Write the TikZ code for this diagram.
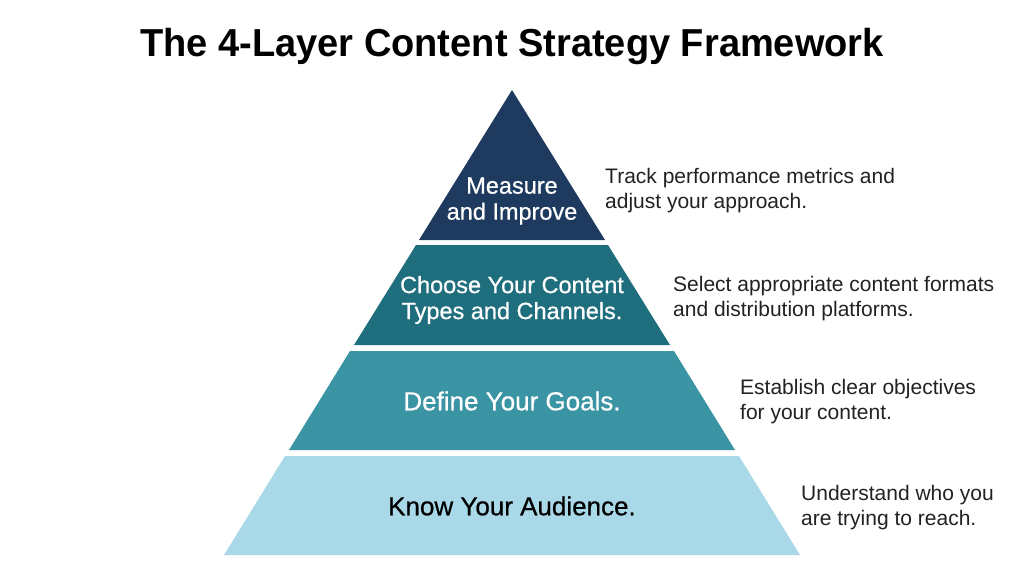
\documentclass[tikz,border=0pt]{standalone}
\usepackage{fontspec}
\setmainfont{Liberation Sans}
\newfontfamily\titlefont[FakeStretch=0.975]{Liberation Sans}
\newfontfamily\labelfont[FakeBold=0.6]{Liberation Sans}
\usepackage{tikz}

\definecolor{layerone}{HTML}{1E3A5F}
\definecolor{layertwo}{HTML}{1F6E7E}
\definecolor{layerthree}{HTML}{3B94A3}
\definecolor{layerfour}{HTML}{A9D9E8}
\definecolor{desccol}{HTML}{222222}

\begin{document}
\begin{tikzpicture}[x=1pt, y=-1pt,
    layertext/.style = {text=white, align=center, inner sep=0pt, font=\labelfont\fontsize{23.5}{26}\selectfont},
    biglayertext/.style = {layertext, font=\labelfont\fontsize{26}{28}\selectfont},
    desctext/.style = {anchor=west, align=left, inner sep=0pt, text=desccol, font=\fontsize{21}{25}\selectfont}]
    \useasboundingbox[fill=white] (0,0) rectangle (1024,576);
    % title
    \node[font=\titlefont\bfseries\fontsize{39}{44}\selectfont] (title) at (512,46) {The 4-Layer Content Strategy Framework};
    % pyramid layers
    \fill[layerone] (512,90) -- (605,240) -- (419,240) -- cycle;
    \fill[layertwo] (416,245) -- (608,245) -- (670,345) -- (354,345) -- cycle;
    \fill[layerthree] (350,351) -- (674,351) -- (735,450) -- (289,450) -- cycle;
    \fill[layerfour] (285,456) -- (739,456) -- (800,555) -- (224,555) -- cycle;
    % layer labels
    \node[layertext] (measure) at (512,201) {Measure\\and Improve};
    \node[layertext] (choose) at (512,300) {Choose Your Content\\Types and Channels.};
    \node[biglayertext] (define) at (512,401) {Define Your Goals.};
    \node[biglayertext, text=black] (know) at (512,506) {Know Your Audience.};
    % descriptions
    \node[desctext] (track) at (605,191) {Track performance metrics and\\adjust your approach.};
    \node[desctext] (select) at (673,299) {Select appropriate content formats\\and distribution platforms.};
    \node[desctext] (establish) at (740,402) {Establish clear objectives\\for your content.};
    \node[desctext] (understand) at (801,508) {Understand who you\\are trying to reach.};
\end{tikzpicture}
\end{document}
